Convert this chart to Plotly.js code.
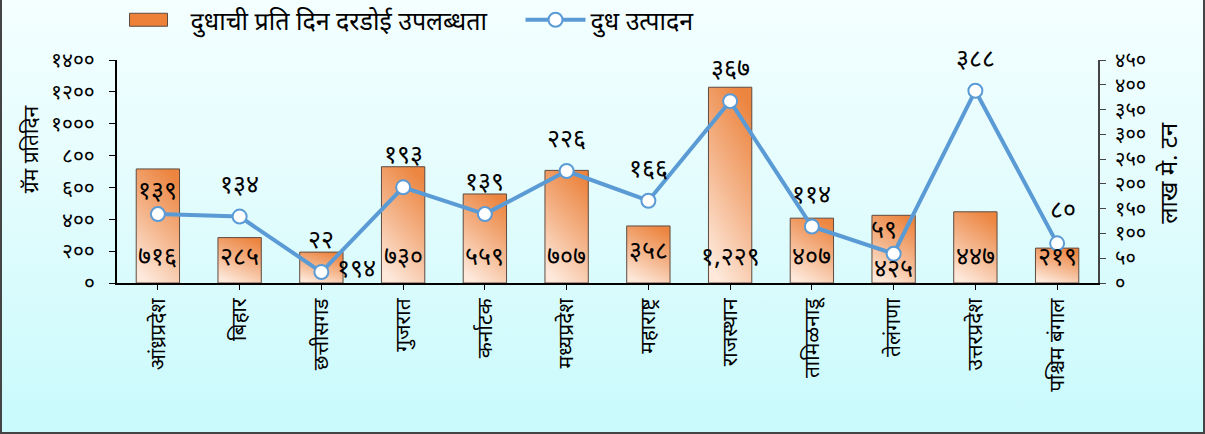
<!DOCTYPE html>
<html>
<head>
<meta charset="utf-8">
<script src="https://cdn.plot.ly/plotly-3.0.1.min.js"></script>
<style>
  html, body { margin: 0; padding: 0; }
  body { width: 1205px; height: 434px; overflow: hidden; }
  #frame {
    position: absolute; left: 0; top: 0; width: 1201px; height: 432px;
    border-left: 2px solid #444; border-right: 2px solid #444; border-bottom: 2px solid #444;
    background: linear-gradient(to bottom, #f4ffff 0%, #e3fcfd 45%, #c9fafc 100%);
  }
  #chart { position: absolute; left: -2px; top: 0; width: 1205px; height: 434px; }
</style>
</head>
<body>
<div id="frame"><div id="chart"></div></div>
<script>
const categories = ['आंध्रप्रदेश', 'बिहार', 'छत्तीसगड', 'गुजरात', 'कर्नाटक', 'मध्यप्रदेश', 'महाराष्ट्र', 'राजस्थान', 'तामिळनाडू', 'तेलंगणा', 'उत्तरप्रदेश', 'पश्चिम बंगाल'];
const availability = [716, 285, 194, 730, 559, 707, 358, 1229, 407, 425, 447, 219];
const production = [139, 134, 22, 193, 139, 226, 166, 367, 114, 59, 388, 80];
const leftTicks = [0, 200, 400, 600, 800, 1000, 1200, 1400];
const rightTicks = [0, 50, 100, 150, 200, 250, 300, 350, 400, 450];
const barName = 'दुधाची प्रति दिन दरडोई उपलब्धता';
const lineName = 'दुध उत्पादन';
const leftTitle = 'ग्रॅम प्रतिदिन';
const rightTitle = 'लाख मे. टन';

const DEV = '०१२३४५६७८९';
function dev(n, comma) {
  const s = comma ? n.toLocaleString('en-US') : String(n);
  return s.replace(/[0-9]/g, d => DEV[+d]);
}

const FONT = "'Noto Sans Devanagari', 'Noto Sans', 'Lohit Devanagari', sans-serif";

const xs = categories.map((c, i) => i);

const barTrace = {
  type: 'bar', x: xs, y: availability, name: barName,
  width: 0.53,
  marker: { color: '#ed8a48', line: { color: '#5e4b40', width: 1 } },
  hoverinfo: 'none'
};
const lineTrace = {
  type: 'scatter', mode: 'lines+markers', x: xs, y: production, name: lineName, yaxis: 'y2',
  line: { color: '#5b9bd5', width: 4 },
  marker: { size: 14, color: '#ffffff', line: { color: '#5b9bd5', width: 2 } },
  hoverinfo: 'none'
};

// label offsets (pixel shifts) where the reference moves labels
const barShift = { 2: { x: 35, y: 12 }, 6: { x: 0, y: 30 }, 9: { x: 0, y: 12 } };
const lineShift = { 0: { x: 0, y: 21 }, 9: { x: -10, y: 22 }, 11: { x: 6, y: 31 } };
const annotations = [];
availability.forEach((v, i) => {
  const s = barShift[i] || { x: 0, y: 24 };
  annotations.push({
    x: i, y: 0, xref: 'x', yref: 'y', text: dev(v, true), showarrow: false,
    xshift: s.x, yshift: s.y, yanchor: 'middle',
    font: { family: FONT, size: 25, color: '#000' }
  });
});
production.forEach((v, i) => {
  const s = lineShift[i] || { x: 0, y: 30 };
  annotations.push({
    x: i, y: v, xref: 'x', yref: 'y2', text: dev(v), showarrow: false,
    xshift: s.x, yshift: s.y, yanchor: 'middle',
    font: { family: FONT, size: 25, color: '#000' }
  });
});
annotations.push({
  xref: 'paper', yref: 'paper', x: 0, y: 0.6, xshift: -84, xanchor: 'center', yanchor: 'middle',
  textangle: -90, showarrow: false,
  text: leftTitle, font: { family: FONT, size: 21, color: '#000' }
});
annotations.push({
  xref: 'paper', yref: 'paper', x: 1, y: 0.49, xshift: 73, xanchor: 'center', yanchor: 'middle',
  textangle: -90, showarrow: false,
  text: rightTitle, font: { family: FONT, size: 24, color: '#000' }
});

const layout = {
  width: 1205, height: 434,
  paper_bgcolor: 'rgba(0,0,0,0)', plot_bgcolor: 'rgba(0,0,0,0)',
  margin: { l: 117, r: 107, t: 60, b: 151 },
  font: { family: FONT, size: 18, color: '#000' },
  showlegend: true,
  legend: {
    orientation: 'h', xref: 'container', x: 0.1, xanchor: 'left', yref: 'container', y: 1.0, yanchor: 'top',
    font: { family: FONT, size: 25, color: '#000' }, bgcolor: 'rgba(0,0,0,0)', traceorder: 'normal',
    itemwidth: 60
  },
  xaxis: {
    range: [-0.5, 11.5], tickvals: xs, ticktext: categories, tickangle: -90,
    showline: true, linecolor: '#000', linewidth: 2, ticks: 'outside', ticklen: 5, tickcolor: '#000',
    showgrid: false, zeroline: false, tickfont: { family: FONT, size: 21 }
  },
  yaxis: {
    range: [0, 1400], tickvals: leftTicks, ticktext: leftTicks.map(t => dev(t)),
    showline: true, linecolor: '#000', linewidth: 2, ticks: 'outside', ticklen: 6, tickcolor: '#000',
    showgrid: false, zeroline: false, tickfont: { family: FONT, size: 21 }, ticklabelstandoff: 10
  },
  yaxis2: {
    range: [0, 450], overlaying: 'y', side: 'right', tickvals: rightTicks, ticktext: rightTicks.map(t => dev(t)),
    showline: true, linecolor: '#444', linewidth: 2, ticks: 'outside', ticklen: 6, tickcolor: '#444',
    showgrid: false, zeroline: false, tickfont: { family: FONT, size: 20 }, ticklabelstandoff: 5
  },
  annotations: annotations
};

function shiftTransform(el, dx, dy) {
  const t = el.getAttribute('transform') || '';
  const m = t.match(/translate\(\s*([-\d.]+)[ ,]+([-\d.]+)\s*\)/);
  const x = m ? parseFloat(m[1]) : 0, y = m ? parseFloat(m[2]) : 0;
  el.setAttribute('transform', t.replace(/translate\([^)]*\)/, '') + ` translate(${x + dx},${y + dy})`);
}

Plotly.newPlot('chart', [barTrace, lineTrace], layout, { staticPlot: true }).then(gd => {
  const svg = gd.querySelector('svg.main-svg');
  const ns = 'http://www.w3.org/2000/svg';
  let defs = svg.querySelector('defs');
  if (!defs) { defs = document.createElementNS(ns, 'defs'); svg.insertBefore(defs, svg.firstChild); }
  const grad = document.createElementNS(ns, 'linearGradient');
  grad.setAttribute('id', 'barGrad');
  grad.setAttribute('x1', '0.7'); grad.setAttribute('y1', '0');
  grad.setAttribute('x2', '0.3'); grad.setAttribute('y2', '1');
  [['0', '#ec8540'], ['0.5', '#f4b48a'], ['1', '#fde8da']].forEach(([o, c]) => {
    const st = document.createElementNS(ns, 'stop');
    st.setAttribute('offset', o); st.setAttribute('stop-color', c);
    grad.appendChild(st);
  });
  defs.appendChild(grad);
  gd.querySelectorAll('.barlayer .point path').forEach(p => { p.style.fill = 'url(#barGrad)'; });
  // legend: wide bar swatch, extra spacing before the second item
  const legendGroup = gd.querySelector('g.legend');
  if (legendGroup) {
    legendGroup.querySelectorAll('[clip-path]').forEach(el => el.removeAttribute('clip-path'));
    shiftTransform(legendGroup, 0, -3);
  }
  const legendItems = gd.querySelectorAll('.legend .traces');
  if (legendItems.length) {
    legendItems[0].querySelectorAll('.legendpoints path').forEach(p => {
      p.setAttribute('d', 'M-26,-6.5h38v13h-38z');
      p.style.fill = '#ed8137';
      p.style.stroke = '#5e4b40';
      p.style.strokeWidth = '1px';
    });
  }
  if (legendItems.length > 1) shiftTransform(legendItems[1], 28, 0);
});
</script>
</body>
</html>
